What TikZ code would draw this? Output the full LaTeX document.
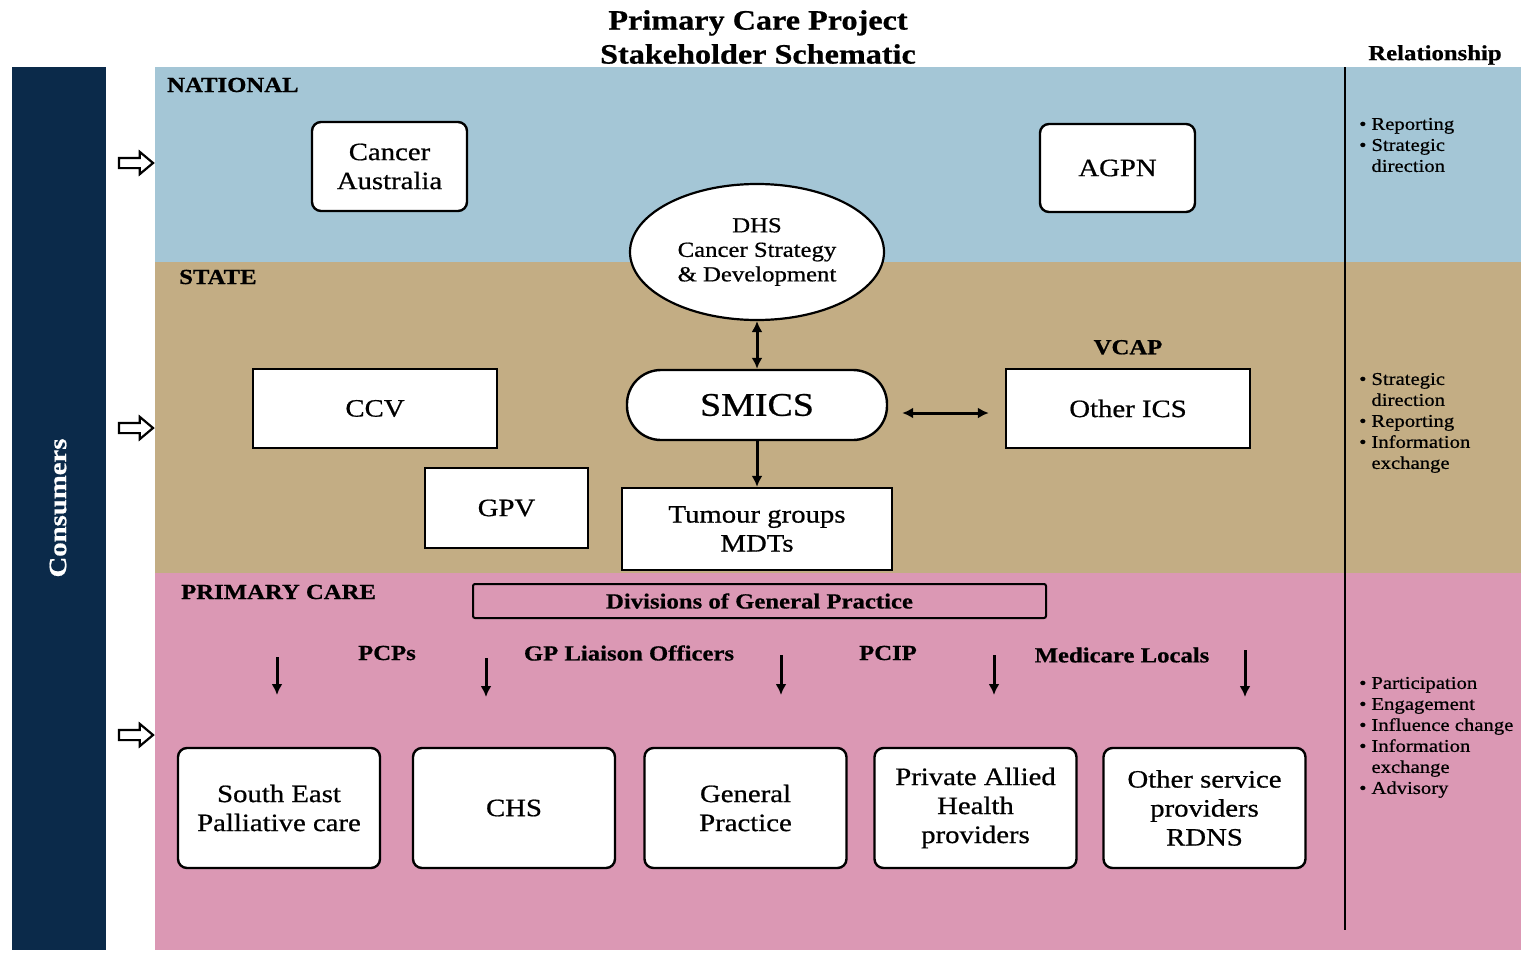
\documentclass[tikz,border=0pt]{standalone}
\usepackage{fontspec}
\setmainfont{Liberation Serif}[FakeStretch=1.15, FakeBold=0.7]
\usetikzlibrary{positioning,arrows.meta,shapes.geometric,shapes.arrows}
\definecolor{natblue}{RGB}{164,198,214}
\definecolor{statetan}{RGB}{195,173,132}
\definecolor{pcpink}{RGB}{219,152,180}
\definecolor{navy}{RGB}{11,42,74}
\tikzset{
  org/.style={draw, fill=white, line width=2.4pt, align=center, inner sep=2pt,
              font=\fontsize{25}{29}\selectfont},
  rbox/.style={org, rounded corners=9pt},
  band/.style={font=\bfseries\fontsize{21.5}{25}\selectfont, anchor=west, inner sep=0pt},
  lbl/.style={font=\bfseries\fontsize{21.5}{25}\selectfont, inner sep=0pt},
  flow/.style={-{Latex[length=11pt,width=11pt]}, line width=3pt},
  twoway/.style={{Latex[length=11pt,width=11pt]}-{Latex[length=11pt,width=11pt]}, line width=3pt},
  rel/.style={anchor=north west, align=left, inner sep=0pt, font=\fontsize{18}{21}\selectfont},
  hollow/.style={single arrow, draw, fill=white, line width=2.2pt, minimum height=34pt,
                 inner xsep=0pt, inner ysep=4pt, single arrow head extend=6pt, single arrow tip angle=80},
}
\newcommand{\relitems}[1]{\begin{tabular}{@{}l@{\hspace{5pt}}l@{}}#1\end{tabular}}

\begin{document}
\begin{tikzpicture}[x=1pt, y=-1pt]
  \useasboundingbox (0,0) rectangle (1521,953);
  % level bands
  \fill[natblue] (155,67) rectangle (1521,262);
  \fill[statetan] (155,262) rectangle (1521,573);
  \fill[pcpink] (155,573) rectangle (1521,950);
  \fill[navy] (12,67) rectangle (106,950);
  \draw[line width=1.5pt] (1345,67) -- (1345,930);

  \node[font=\bfseries\fontsize{28}{34}\selectfont, align=center] (title) at (758,37)
    {Primary Care Project\\Stakeholder Schematic};
  \node[lbl] (relhead) at (1435,55) {Relationship};
  \node[white, rotate=90, font=\bfseries\fontsize{25}{29}\selectfont] (cons) at (58,508) {Consumers};

  \node[band] (nat) at (167,85) {NATIONAL};
  \node[band] (state) at (179,277) {STATE};
  \node[band] (prim) at (181,592) {PRIMARY CARE};

  \foreach \y/\n in {163/a, 428/b, 735/c}
    \node[hollow] (in\n) at (133,\y) {};

  % national
  \node[rbox, minimum width=155, minimum height=89] (canaus) at (389.5,166.5) {Cancer\\Australia};
  \node[rbox, minimum width=155, minimum height=88] (agpn) at (1117.5,168) {AGPN};
  \node[ellipse, draw, fill=white, line width=2.2pt, minimum width=254, minimum height=136,
        inner sep=0pt, align=center, font=\fontsize{21.5}{24.5}\selectfont] (dhs) at (757,252)
    {DHS\\Cancer Strategy\\\& Development};

  % state
  \node[org, rounded corners=34pt, minimum width=260, minimum height=70,
        font=\fontsize{33}{38}\selectfont] (smics) at (757,405) {SMICS};
  \node[org, minimum width=244, minimum height=79] (ccv) at (375,408.5) {CCV};
  \node[org, minimum width=163, minimum height=80] (gpv) at (506.5,508) {GPV};
  \node[org, minimum width=270, minimum height=82] (tumour) at (757,529) {Tumour groups\\MDTs};
  \node[org, minimum width=244, minimum height=79] (othics) at (1128,408.5) {Other ICS};
  \node[lbl, above=13pt of othics] (vcap) {VCAP};

  \draw[twoway] (dhs.south) -- (smics.north);
  \draw[flow] (smics.south) -- (tumour.north);
  \draw[twoway, shorten <=14pt, shorten >=16pt] ([yshift=-8pt]smics.east) -- ([yshift=-4.5pt]othics.west);

  % primary care
  \node[draw, fill=pcpink, line width=2pt, rounded corners=2pt, minimum width=573, minimum height=34,
        inner sep=0pt, font=\bfseries\fontsize{21.5}{25}\selectfont] (divgp) at (759.5,601)
    {Divisions of General Practice};
  \node[lbl] (pcps) at (387,653) {PCPs};
  \node[lbl] (gplo) at (629,653) {GP Liaison Officers};
  \node[lbl] (pcip) at (888,653) {PCIP};
  \node[lbl] (mlocal) at (1122,655) {Medicare Locals};

  \foreach \x/\t/\b [count=\i] in {277/657/695, 486/658/697, 781/655/695, 994/655/695, 1245/650/697} {
    \coordinate (dt\i) at (\x,\t);
    \coordinate (db\i) at (\x,\b);
    \draw[flow] (dt\i) -- (db\i);
  }

  \node[rbox, minimum width=202, minimum height=120] (sepc) at (279,808) {South East\\Palliative care};
  \node[rbox, minimum width=202, minimum height=120] (chs) at (514,808) {CHS};
  \node[rbox, minimum width=202, minimum height=120] (genp) at (745.5,808) {General\\Practice};
  \node[rbox, minimum width=202, minimum height=120] (pah) at (975.5,808) {Private Allied\\Health\\providers};
  \node[rbox, minimum width=202, minimum height=120] (osp) at (1204.5,808) {Other service\\providers\\RDNS};

  % relationship column
  \node[rel] (relnat) at (1359,115) {\relitems{\textbullet & Reporting\\ \textbullet & Strategic\\ & direction}};
  \node[rel] (relstate) at (1359,370) {\relitems{\textbullet & Strategic\\ & direction\\ \textbullet & Reporting\\
    \textbullet & Information\\ & exchange}};
  \node[rel] (relprim) at (1359,674) {\relitems{\textbullet & Participation\\ \textbullet & Engagement\\
    \textbullet & Influence change\\ \textbullet & Information\\ & exchange\\ \textbullet & Advisory}};
\end{tikzpicture}
\end{document}
